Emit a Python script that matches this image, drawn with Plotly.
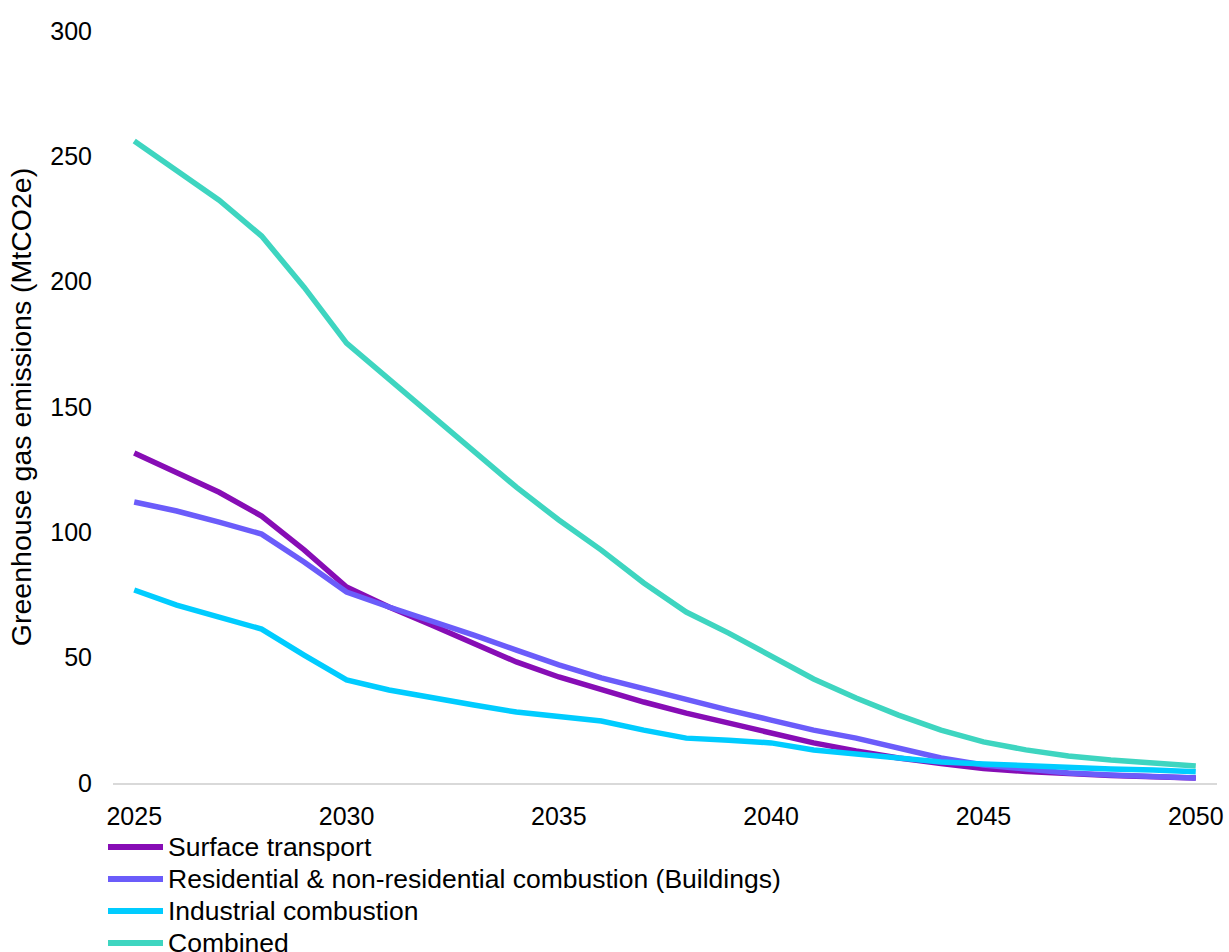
import plotly.graph_objects as go

years = list(range(2025, 2051))

surface_transport = [131.6, 124.0, 116.0, 106.5, 93.0, 78.2, 70.2, 63.0, 55.8, 48.3,
                     42.3, 37.1, 32.3, 27.9, 23.9, 19.5, 16.0, 12.8, 10.0, 7.8,
                     5.8, 4.6, 3.7, 3.0, 2.5, 2.0]
buildings = [112.1, 108.5, 104.1, 99.3, 88.2, 76.2, 70.2, 64.8, 59.0, 53.0,
             47.1, 41.9, 37.5, 33.1, 29.1, 25.1, 21.1, 17.9, 13.9, 10.0,
             7.2, 5.6, 4.0, 3.2, 2.4, 2.0]
industrial = [77.0, 71.0, 66.2, 61.4, 51.0, 41.1, 37.1, 33.9, 31.1, 28.3,
              26.3, 24.7, 21.1, 17.9, 17.1, 16.0, 13.2, 11.6, 10.0, 8.4,
              7.6, 6.8, 6.4, 5.6, 5.2, 4.5]
combined = [256.1, 244.5, 232.5, 218.2, 197.8, 175.5, 161.0, 146.8, 132.0, 118.0,
            104.9, 92.9, 79.8, 68.2, 59.8, 50.7, 41.5, 33.9, 27.1, 21.1,
            16.4, 13.2, 10.8, 9.2, 8.0, 6.8]

series_names = ["Surface transport",
                "Residential & non-residential combustion (Buildings)",
                "Industrial combustion",
                "Combined"]
series_values = [surface_transport, buildings, industrial, combined]
series_colors = ["#870DB5", "#6B5CFA", "#00CCFF", "#3ED5C0"]

x_ticks = [2025, 2030, 2035, 2040, 2045, 2050]
y_ticks = [0, 50, 100, 150, 200, 250, 300]

W, H = 1229, 952
ML, MR, MT, MB = 113, 12, 31, 169
PW, PH = W - ML - MR, H - MT - MB

fig = go.Figure()
for name, vals, col in zip(series_names, series_values, series_colors):
    fig.add_trace(go.Scatter(x=years, y=vals, mode="lines", name=name,
                             line=dict(color=col, width=5.5), showlegend=False))

font_family = "Liberation Sans, Arial, sans-serif"

# custom legend below the plot (layout only)
leg_line_x0, leg_line_x1, leg_text_x = 108, 163, 167
leg_first_y, leg_step = 847, 32
for i, (name, col) in enumerate(zip(series_names, series_colors)):
    py = leg_first_y + i * leg_step
    yp = (H - MB - py) / PH
    fig.add_shape(type="line", xref="paper", yref="paper",
                  x0=(leg_line_x0 - ML) / PW, x1=(leg_line_x1 - ML) / PW,
                  y0=yp, y1=yp, line=dict(color=col, width=6))
    fig.add_annotation(xref="paper", yref="paper", x=(leg_text_x - ML) / PW, y=yp,
                       xanchor="left", yanchor="middle", text=name, showarrow=False,
                       font=dict(size=26.5, family=font_family, color="#000000"),
                       borderpad=0)

fig.update_layout(
    width=W, height=H,
    margin=dict(l=ML, r=MR, t=MT, b=MB, autoexpand=False),
    paper_bgcolor="white", plot_bgcolor="white",
    font=dict(family=font_family, size=25, color="#000000"),
    showlegend=False,
    xaxis=dict(range=[2024.5, 2050.5], tickvals=x_ticks, ticktext=[str(t) for t in x_ticks],
               showgrid=False, zeroline=False, showline=True, linecolor="#D9D9D9",
               linewidth=2, ticks="", ticklabelstandoff=10,
               tickfont=dict(size=25, family=font_family, color="#000000")),
    yaxis=dict(range=[0, 300], tickvals=y_ticks, showgrid=False, zeroline=False,
               showline=False, ticks="", ticklabelstandoff=20,
               tickfont=dict(size=25, family=font_family, color="#000000"),
               title=dict(text="Greenhouse gas emissions (MtCO2e)",
                          font=dict(size=28.5, family=font_family, color="#000000"),
                          standoff=10)),
)

fig.write_html("out.html")
